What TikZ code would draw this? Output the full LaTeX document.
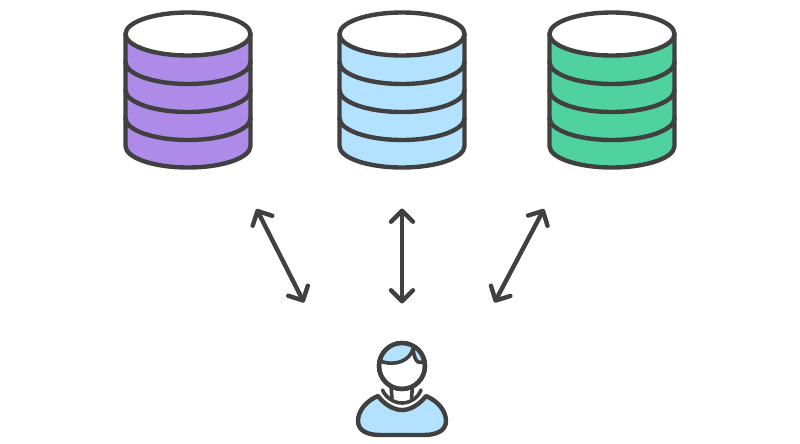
\documentclass[tikz,border=0pt]{standalone}
\usepackage{xcolor}
\usetikzlibrary{
arrows.meta
}
\definecolor{linegray}{HTML}{404040}
\definecolor{dbpurple}{HTML}{AE8BE9}
\definecolor{dbblue}{HTML}{B3E2FF}
\definecolor{dbgreen}{HTML}{4FD2A0}

\begin{document}
\begin{tikzpicture}[
        x=1pt, y=-1pt,
        outline/.style={draw=linegray, line width=4.4pt, line join=round, line cap=round},
        thinline/.style={outline, line width=3.6pt},
        link/.style={outline, {Straight Barb[length=11pt, width=22pt, round]}-{Straight Barb[length=11pt, width=22pt, round]}}
    ]
        \useasboundingbox (0,0) rectangle (800,444);

        % databases
        \foreach \cx/\col in {188/dbpurple, 402/dbblue, 612/dbgreen} {
            \draw[outline, fill=\col] (\cx-62.5,34) -- (\cx-62.5,146) arc[start angle=180, end angle=0, x radius=62.5, y radius=21.5] -- (\cx+62.5,34) -- cycle;
            \foreach \by in {62,90,118} {
                \draw[outline] (\cx-62.5,\by) arc[start angle=180, end angle=0, x radius=62.5, y radius=22];
            }
            \draw[outline, fill=white] (\cx,34) ellipse[x radius=62.5, y radius=21.5];
        }

        % arrow ends
        \coordinate (purpletop) at (256.5,209);
        \coordinate (purplelow) at (304,302.5);
        \coordinate (bluetop) at (402,208.5);
        \coordinate (bluelow) at (402,303.5);
        \coordinate (greentop) at (544,209);
        \coordinate (greenlow) at (494.5,302.5);

        \draw[link] (purpletop) -- (purplelow);
        \draw[link] (bluetop) -- (bluelow);
        \draw[link] (greentop) -- (greenlow);

        % user
        \draw[outline, fill=dbblue] (378,396) .. controls (385,405) and (394,410) .. (402,410) .. controls (410,410) and (419,405) .. (426,396) .. controls (438,401) and (446,411) .. (446,421) .. controls (446,431) and (436,435) .. (424,435) -- (380,435) .. controls (368,435) and (358,431) .. (358,421) .. controls (358,411) and (366,401) .. (378,396) -- cycle;
        \draw[thinline] (382.5,390) .. controls (386,398) and (394,403) .. (402,403) .. controls (410,403) and (418,398) .. (421,390);
        \draw[thinline] (391,386) -- (392,398);
        \draw[thinline] (412.5,386) -- (411.5,398);
        \draw[outline, fill=white] (402,366) circle[radius=23];
        \draw[thinline, fill=dbblue] (380,361) arc[start angle=192, end angle=348, radius=22.5] .. controls (420,364) and (415,364) .. (413,349) .. controls (410,360) and (396,367) .. (380,361) -- cycle;
        \draw[outline] (402,366) circle[radius=23];
    \end{tikzpicture}
\end{document}
